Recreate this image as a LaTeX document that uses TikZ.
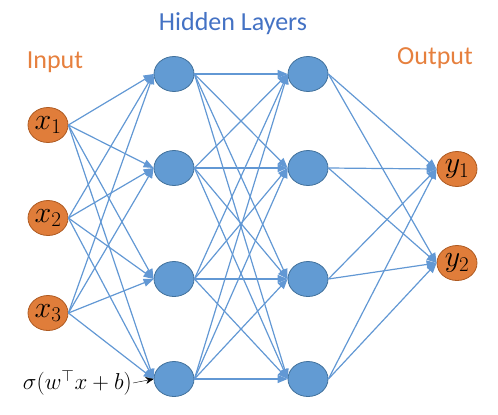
\RequirePackage{fix-cm}
\documentclass[tikz,border=0pt]{standalone}
\usepackage{fontspec}
\setmainfont{Carlito}
\usetikzlibrary{arrows.meta, shapes.geometric}
\definecolor{monOrange}{RGB}{224, 125, 58}
\definecolor{bordOrange}{RGB}{174, 90, 33}
\definecolor{texteOrange}{RGB}{230, 128, 62}
\definecolor{monBleu}{RGB}{98, 155, 211}
\definecolor{bordBleu}{RGB}{65, 113, 156}
\definecolor{lienBleu}{RGB}{98, 152, 212}
\definecolor{texteBleu}{RGB}{68, 114, 196}

\begin{document}
\begin{tikzpicture}[x=1pt, y=-1pt,
    neurIn/.style={ellipse, draw=bordOrange, fill=monOrange, thick, minimum width=40pt, minimum height=35pt, inner sep=0pt, font=\fontsize{30}{32}\selectfont},
    neurCach/.style={ellipse, draw=bordBleu, fill=monBleu, thick, minimum width=40pt, minimum height=35pt, inner sep=0pt},
    lien/.style={-{Triangle[length=10pt, width=8pt]}, lienBleu, line width=1.2pt},
    titre/.style={font=\fontsize{26}{30}\selectfont}]
    \useasboundingbox (0,0) rectangle (498,415);

    % Couche d'entree
    \foreach \i/\y in {1/125, 2/218, 3/313}
        \node[neurIn] (in\i) at (48,\y) {$x_\i$};

    % Couches cachees
    \foreach \j/\y in {1/74, 2/168, 3/279, 4/379} {
        \node[neurCach] (hA\j) at (174,\y) {};
        \node[neurCach] (hB\j) at (308,\y) {};
    }

    % Couche de sortie
    \node[neurIn] (out1) at (457,169) {$y_1$};
    \node[neurIn] (out2) at (457,263) {$y_2$};

    % Titres
    \node[titre, texteOrange] at (55,62) {Input};
    \node[titre, texteBleu] at (233,24) {Hidden Layers};
    \node[titre, texteOrange] at (435,58) {Output};

    % Liens
    \foreach \i in {1,2,3}
        \foreach \j in {1,...,4}
            \draw[lien] (in\i.east) -- (hA\j.west);
    \foreach \i in {1,...,4}
        \foreach \j in {1,...,4}
            \draw[lien] (hA\i.east) -- (hB\j.west);
    \foreach \i in {1,...,4}
        \foreach \j in {1,2}
            \draw[lien] (hB\i.east) -- (out\j.west);

    % Activation
    \node[anchor=east, inner sep=1pt, font=\fontsize{23}{26}\selectfont] (sigma) at (133,383) {$\sigma(w^\top x+b)$};
    \draw[->, >={Stealth[length=8pt, width=7pt]}] (sigma.east) -- (hA4.west);
\end{tikzpicture}
\end{document}
